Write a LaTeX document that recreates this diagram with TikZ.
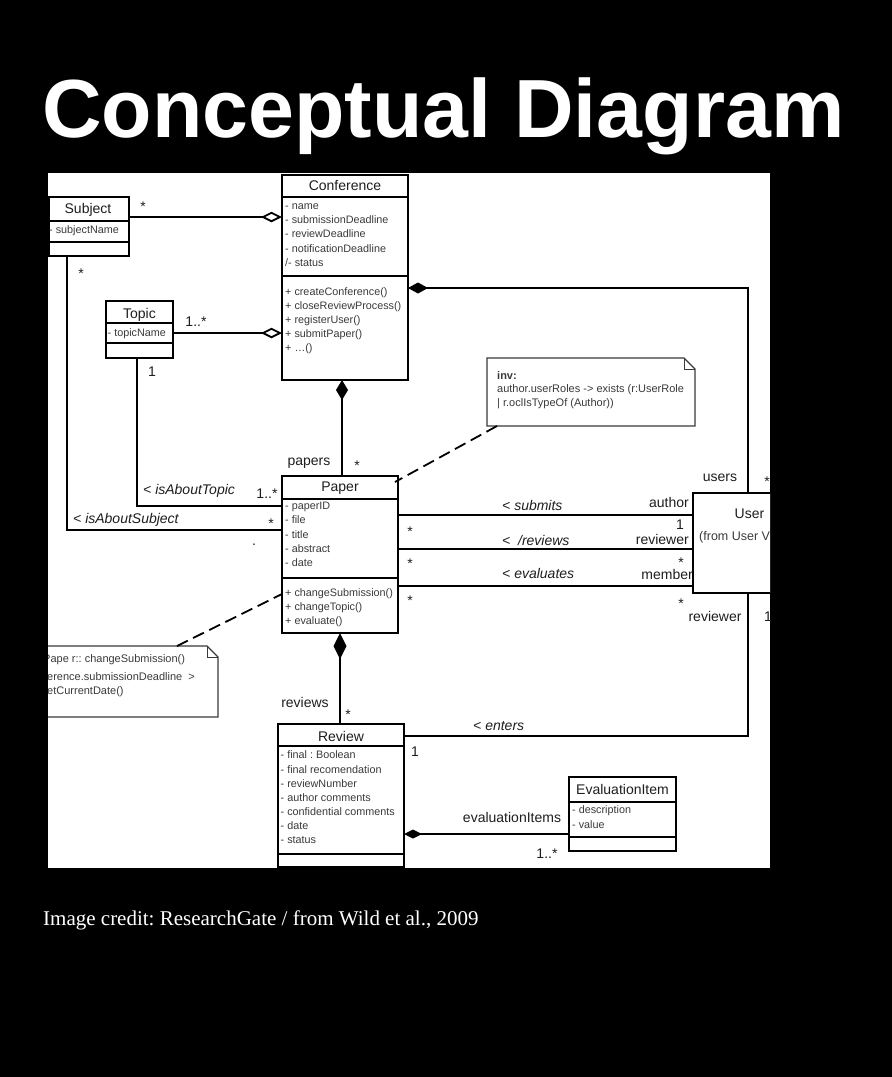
\documentclass[tikz,border=0pt]{standalone}
\usepackage{fontspec}
\setmainfont{Liberation Serif}
\newfontfamily\umlfont{Liberation Sans}
\usetikzlibrary{arrows.meta,calc}
\definecolor{umlink}{HTML}{1E1E1E}
\definecolor{umlgray}{HTML}{3A3A3A}
\frenchspacing
\begin{document}
\begin{tikzpicture}[x=1pt,y=-1pt,line join=miter,
  classbox/.style={draw=black,line width=1.8pt,fill=white,anchor=north west,inner sep=0pt,outer sep=0pt},
  sepline/.style={line width=1.8pt},
  ctitle/.style={font=\umlfont\fontsize{14}{16}\selectfont,text=umlink,inner sep=0pt,text height=10pt,text depth=3pt},
  attr/.style={font=\umlfont\fontsize{10.8}{12}\selectfont,text=umlgray,anchor=west,inner sep=0pt,text height=7.8pt,text depth=2.2pt},
  lbl/.style={font=\umlfont\fontsize{14}{16}\selectfont,text=umlink,inner sep=0pt,text height=10pt,text depth=3pt},
  ilbl/.style={lbl,font=\umlfont\itshape\fontsize{14}{16}\selectfont,anchor=west},
  starlbl/.style={lbl,yshift=-4.5pt},
  assoc/.style={line width=1.8pt},
  notelink/.style={line width=1.8pt,dash pattern=on 12pt off 6pt},
  notebg/.style={fill=white,inner sep=0pt,outer sep=0pt,anchor=north west},
  noteline/.style={draw=umlgray,line width=1.2pt},
  notetext/.style={font=\umlfont\fontsize{11}{13}\selectfont,text=umlgray,anchor=west,inner sep=0pt,text height=8pt,text depth=2.5pt},
  aggr/.style={assoc,-{Diamond[open,length=21pt,width=10.5pt]}},
  compo/.style={assoc,{Diamond[length=20pt,width=12pt]}-},
]
% page and diagram panel
\useasboundingbox (0,0) rectangle (892,1077);
\fill[black] (0,0) rectangle (892,1077);
\node[font=\umlfont\bfseries\fontsize{82.5}{90}\selectfont,text=white,anchor=base west,inner sep=0pt] (heading) at (42,137) {Conceptual Diagram};
\node[font=\fontsize{21}{24}\selectfont,text=white,anchor=base west,inner sep=0pt] (credit) at (43,925) {Image credit: ResearchGate / from Wild et al., 2009};
\fill[white] (48,173) rectangle (770,868);

\begin{scope}
\clip (48,173) rectangle (770,868);

% ---------- class boxes ----------
\node[classbox,minimum width=126pt,minimum height=205pt] (conf) at (282,175) {};
\node[classbox,minimum width=80pt,minimum height=59pt] (subj) at (49,197) {};
\node[classbox,minimum width=67pt,minimum height=57pt] (topic) at (106,301) {};
\node[classbox,minimum width=116pt,minimum height=157pt] (paper) at (282,476) {};
\node[classbox,minimum width=126pt,minimum height=143pt] (review) at (278,724) {};
\node[classbox,minimum width=107pt,minimum height=74pt] (evit) at (569,777) {};
\node[classbox,minimum width=110pt,minimum height=100pt] (user) at (693,493) {};

% compartment separators
\foreach \b/\ya/\yb in {conf/197/276, subj/221/242, topic/323/343, paper/499/578, review/746/854, evit/802/837}{
  \draw[sepline] (\b.west |- 0,\ya) -- (\b.east |- 0,\ya);
  \draw[sepline] (\b.west |- 0,\yb) -- (\b.east |- 0,\yb);
}

% ---------- notes ----------
\node[notebg,minimum width=208pt,minimum height=68pt] (inv) at (487,358) {};
\draw[noteline] (inv.north west) -- ($(inv.north east)+(-11,0)$) -- ($(inv.north east)+(0,11)$) -- (inv.south east) -- (inv.south west) -- cycle;
\draw[draw=umlgray,line width=0.8pt] ($(inv.north east)+(-11,0)$) |- ($(inv.north east)+(0,11)$);
\node[notetext,font=\umlfont\bfseries\fontsize{11}{13}\selectfont] (inv1) at (497,377) {inv:};
\node[notetext] (inv2) at (497,390) {author.userRoles -> exists (r:UserRole};
\node[notetext] (inv3) at (497,404) {| r.oclIsTypeOf (Author))};

\node[notebg,minimum width=188pt,minimum height=71pt] (pre) at (30,646) {};
\draw[noteline] (pre.north west) -- ($(pre.north east)+(-11,0)$) -- ($(pre.north east)+(0,11)$) -- (pre.south east) -- (pre.south west) -- cycle;
\draw[draw=umlgray,line width=0.8pt] ($(pre.north east)+(-11,0)$) |- ($(pre.north east)+(0,11)$);
\node[notetext] (pre1) at (43,660) {Pape r:: changeSubmission()};
\node[notetext] (pre2) at (47,678) {erence.submissionDeadline \ >};
\node[notetext] (pre3) at (47,692) {etCurrentDate()};

% ---------- connectors ----------
\draw[aggr] (subj.east |- 0,217) -- (conf.west |- 0,217);
\draw[aggr] (topic.east |- 0,333) -- (conf.west |- 0,333);
\draw[compo] (conf.south -| 342,0) -- (paper.north -| 342,0);
\draw[assoc,{Diamond[length=20pt,width=11pt]}-] (conf.east |- 0,288) -| (user.north -| 748,0);
\draw[assoc] (topic.south -| 137,0) |- (paper.west |- 0,506);
\draw[assoc] (subj.south -| 67,0) |- (paper.west |- 0,530);
\draw[assoc] (paper.east |- 0,515) -- (user.west |- 0,515);
\draw[assoc] (paper.east |- 0,549) -- (user.west |- 0,549);
\draw[assoc] (paper.east |- 0,586) -- (user.west |- 0,586);
\draw[assoc,{Diamond[length=26pt,width=13pt]}-] (paper.south) -- (paper.south |- review.north);
\draw[assoc] (user.south -| 748,0) |- (review.east |- 0,736);
\draw[assoc,{Diamond[length=18pt,width=9pt]}-] (review.east |- 0,834) -- (evit.west |- 0,834);
\draw[notelink] ($(inv.south west)+(10,0)$) -- ($(paper.north east)+(-3,6)$);
\draw[notelink] ($(pre.north west)+(147,0)$) -- (paper.west |- 0,594);

% ---------- class texts ----------
\node[ctitle] (confT) at (345,187) {Conference};
\foreach \t/\y [count=\i] in {- name/207, - submissionDeadline/221, - reviewDeadline/235, - notificationDeadline/250, {/- status}/264,
  + createConference()/293, + closeReviewProcess()/307, + registerUser()/321, + submitPaper()/335}
  \node[attr] (confA\i) at (285,\y) {\t};
\node[attr] (confAx) at (285,349) {+ \ldots()};

\node[ctitle] (subjT) at (88,210) {Subject};
\node[attr] (subjA) at (49,231) {- subjectName};

\node[ctitle] (topicT) at (139.5,315) {Topic};
\node[attr] (topicA) at (107.5,334) {- topicName};

\node[ctitle] (paperT) at (340,488) {Paper};
\foreach \t/\y [count=\i] in {- paperID/507, - file/521, - title/536, - abstract/550, - date/564,
  + changeSubmission()/594, + changeTopic()/608, + evaluate()/622}
  \node[attr] (paperA\i) at (285,\y) {\t};

\node[ctitle] (reviewT) at (341,738) {Review};
\foreach \t/\y [count=\i] in {- final : Boolean/756, - final recomendation/771, - reviewNumber/785,
  - author comments/799, - confidential comments/813, - date/827, - status/841}
  \node[attr] (reviewA\i) at (280.5,\y) {\t};

\node[ctitle] (evitT) at (622.5,791) {EvaluationItem};
\node[attr] (evitA1) at (572,811) {- description};
\node[attr] (evitA2) at (572,826) {- value};

\node[ctitle] (userT) at (749.5,515) {User};
\node[attr,font=\umlfont\fontsize{12.5}{14}\selectfont] (userS) at (699,538) {(from User V};

% ---------- association labels ----------
\node[starlbl] (m1) at (143,203) {*};
\node[starlbl] (m2) at (81,270) {*};
\node[lbl] (m3) at (196,323) {1..*};
\node[lbl] (m4) at (152,373) {1};
\node[lbl] (r1) at (309,462) {papers};
\node[starlbl] (m5) at (357,462) {*};
\node[ilbl] (a1) at (143,491) {< isAboutTopic};
\node[lbl] (m6) at (267,495) {1..*};
\node[ilbl] (a2) at (73,520) {< isAboutSubject};
\node[starlbl] (m7) at (271,520) {*};
\node[lbl] (dot) at (254,541.5) {.};

\node[ilbl] (a3) at (502,507) {< submits};
\node[lbl,anchor=east] (r2) at (689,504) {author};
\node[lbl,anchor=east] (m8) at (684,526) {1};
\node[ilbl] (a4) at (502,542) {<\ \ /reviews};
\node[lbl,anchor=east] (r3) at (689,541) {reviewer};
\node[starlbl] (m9) at (681,559) {*};
\node[ilbl] (a5) at (502,575) {< evaluates};
\node[lbl,anchor=east] (r4) at (693,576) {member};
\node[starlbl] (m10) at (681,600) {*};
\node[starlbl] (m11) at (410,528) {*};
\node[starlbl] (m12) at (410,560) {*};
\node[starlbl] (m13) at (410,597) {*};
\node[lbl] (r5) at (720,478) {users};
\node[starlbl] (m14) at (767,478) {*};
\node[lbl] (r6) at (715,618) {reviewer};
\node[lbl] (m15) at (768,618) {1};

\node[lbl] (r7) at (305,704) {reviews};
\node[starlbl] (m16) at (348,711) {*};
\node[ilbl] (a6) at (473,727) {< enters};
\node[lbl] (m17) at (415,753) {1};
\node[lbl] (r8) at (512,819) {evaluationItems};
\node[lbl] (m18) at (547,855) {1..*};
\end{scope}
\end{tikzpicture}
\end{document}
